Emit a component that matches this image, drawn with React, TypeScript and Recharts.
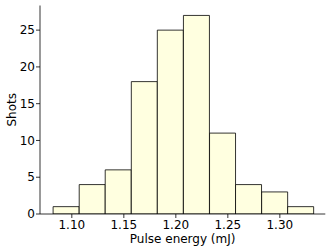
import { ComposedChart, Bar, XAxis, YAxis } from "recharts";

// histogram of 100 shots, 10 bins (bin centres in mJ)
const binCenters = [1.0945, 1.1196, 1.1446, 1.1697, 1.1947, 1.2198, 1.2449, 1.2699, 1.295, 1.32];
const shotCounts = [1, 4, 6, 18, 25, 27, 11, 4, 3, 1];
const xTicks = [1.1, 1.15, 1.2, 1.25, 1.3];
const yTicks = [0, 5, 10, 15, 20, 25];
const xDomain = [1.0694, 1.3437];
const yDomain = [0, 28.35];

const data = binCenters.map((c, i) => ({ center: c, count: shotCounts[i] }));

const font = "DejaVu Sans";
const tickStyle = { fontSize: 12, fill: "#000", fontFamily: font };
const axisStroke = { stroke: "#000", strokeWidth: 0.8 };

function YLabel({ viewBox }: any) {
  const x = viewBox.x + 12;
  const y = viewBox.y + viewBox.height / 2;
  return (
    <text
      x={x}
      y={y}
      transform={`rotate(-90 ${x} ${y})`}
      textAnchor="middle"
      dominantBaseline="central"
      fontSize={12}
      fontFamily={font}
      fill="#000"
    >
      Shots
    </text>
  );
}

export default function App() {
  return (
    <div style={{ position: "absolute", left: 0, top: 0, background: "#fff" }}>
      <ComposedChart
        width={333}
        height={250}
        data={data}
        margin={{ top: 5.5, right: 7.7, left: 0, bottom: 0 }}
        barCategoryGap={0}
        barGap={0}
      >
        <XAxis
          dataKey="center"
          type="number"
          domain={xDomain}
          ticks={xTicks}
          tickFormatter={(v: number) => v.toFixed(2)}
          tick={tickStyle}
          axisLine={axisStroke}
          tickLine={axisStroke}
          tickSize={4}
          tickMargin={2}
          height={36}
          allowDataOverflow
          label={{ value: "Pulse energy (mJ)", position: "insideBottom", offset: 7, fontSize: 12, fontFamily: font, fill: "#000" }}
        />
        <XAxis xAxisId="top" orientation="top" type="number" domain={xDomain} tick={false} tickLine={false} axisLine={axisStroke} height={0} allowDataOverflow />
        <YAxis
          domain={yDomain}
          ticks={yTicks}
          tick={tickStyle}
          axisLine={axisStroke}
          tickLine={axisStroke}
          tickSize={4}
          tickMargin={1}
          width={40}
          allowDataOverflow
          label={<YLabel />}
        />
        <YAxis yAxisId="right" orientation="right" domain={yDomain} tick={false} tickLine={false} axisLine={axisStroke} width={0} allowDataOverflow />
        <Bar dataKey="count" fill="#FFFFE0" stroke="#000" strokeWidth={0.8} isAnimationActive={false} />
      </ComposedChart>
    </div>
  );
}
